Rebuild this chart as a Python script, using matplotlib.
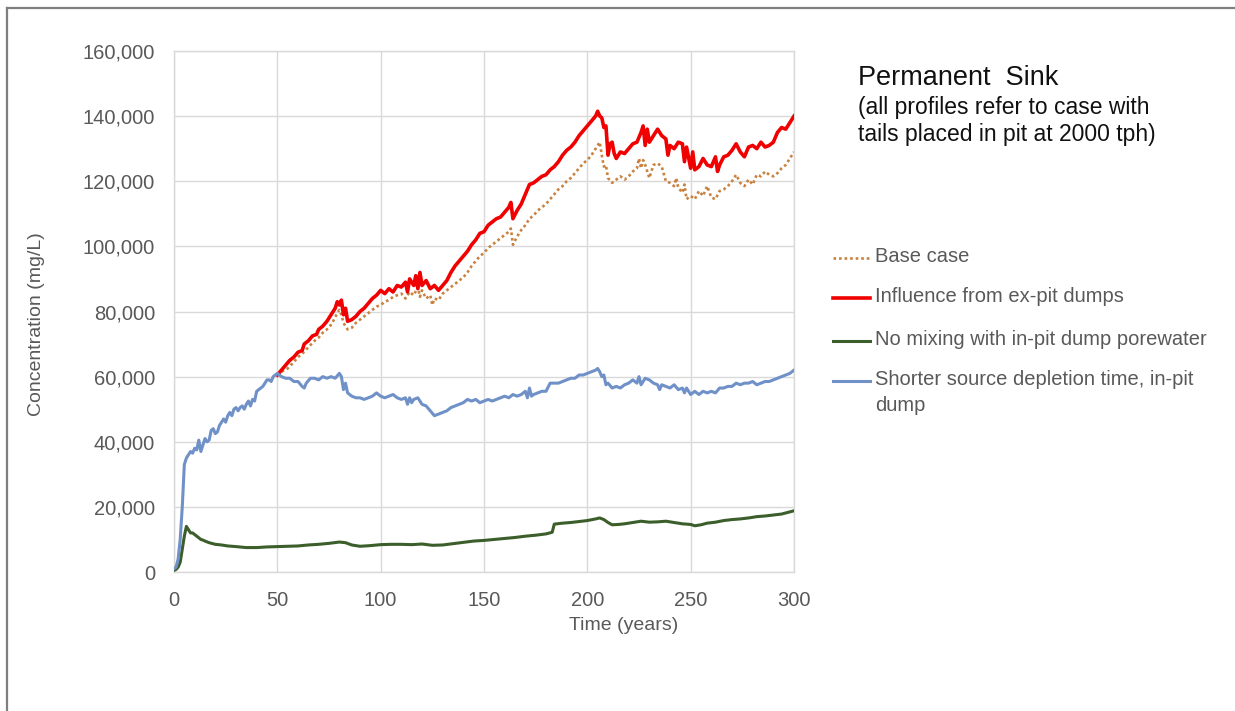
import matplotlib
matplotlib.use("Agg")
import matplotlib.pyplot as plt
from matplotlib.ticker import FuncFormatter, MultipleLocator
from matplotlib.lines import Line2D

plt.rcParams['font.family'] = ['Liberation Sans', 'DejaVu Sans']

# ---- data (years, concentration in thousands of mg/L) ----
base_years = [50, 52, 55, 58, 60, 62, 65, 68, 70, 72, 75, 77, 79, 80, 81, 82, 84, 86, 88, 90,
              92, 94, 96, 98, 100, 102, 104, 106, 108, 110, 112, 114, 116, 118, 119, 120, 122, 124, 125, 126,
              128, 130, 132, 134, 136, 138, 140, 142, 144, 146, 148, 150, 152, 154, 156, 158, 160, 162, 163, 164,
              166, 168, 170, 172, 174, 176, 178, 180, 182, 184, 186, 188, 190, 192, 194, 196, 198, 200, 202, 204,
              206, 207, 208, 209, 210, 212, 214, 216, 218, 220, 222, 224, 225, 226, 227, 228, 230, 232, 234, 236,
              238, 240, 242, 243, 244, 246, 247, 248, 250, 252, 254, 256, 258, 260, 262, 264, 266, 268, 270, 272,
              274, 276, 278, 280, 282, 284, 286, 288, 290, 292, 294, 296, 298, 300]
base_case = [60.5, 61.5, 62.5, 64.5, 66, 67, 69, 71, 72, 73.5, 75, 77, 79.5, 80.5, 79, 76.5, 74.5, 75, 76.5, 77.5,
             78.5, 79.5, 80.5, 81.5, 82, 83, 83.5, 84.5, 85, 85.5, 84, 86, 85, 87.5, 84.5, 86.5, 84, 85, 82, 84,
             83.5, 85.5, 86.5, 87.5, 88.5, 89.5, 90.5, 92, 94, 95.5, 97, 98, 99.5, 100.5, 101.5, 102.5, 103.5, 104.5, 105.5, 100.5,
             103, 105, 106.5, 108.5, 109.5, 111, 112, 113, 114.5, 116, 117.5, 118.5, 120, 121, 122.5, 124, 125.5, 126.5, 128, 130,
             132, 128, 124.5, 125, 121, 119.5, 120.5, 121.5, 120.5, 121.5, 123, 124, 127, 124, 126.5, 125, 121, 125, 125.5, 124.5,
             120, 119.5, 118.5, 121, 118, 116.5, 119, 114.5, 115.5, 114.5, 117, 115.5, 118.5, 115, 114.5, 117, 117.5, 118.5, 120, 122,
             119.5, 118.5, 120.5, 119, 122, 121.5, 123, 122, 121.5, 122.5, 124, 125, 127, 129]

expit_years = [50, 52, 54, 56, 58, 60, 62, 63, 65, 67, 69, 70, 72, 74, 76, 78, 79, 80, 81, 82,
               83, 84, 86, 88, 90, 92, 94, 96, 98, 100, 102, 104, 106, 108, 110, 112, 113, 114, 116, 117,
               118, 119, 120, 122, 124, 126, 128, 130, 132, 134, 136, 138, 140, 142, 144, 146, 148, 150, 152, 154,
               156, 158, 160, 162, 163, 164, 166, 168, 170, 172, 174, 176, 178, 180, 182, 184, 186, 188, 190, 192,
               194, 196, 198, 200, 202, 204, 205, 206, 207, 208, 209, 210, 211, 212, 213, 214, 216, 218, 220, 222,
               224, 226, 227, 228, 229, 230, 232, 234, 236, 238, 239, 240, 242, 244, 246, 247, 248, 250, 251, 252,
               254, 256, 258, 260, 262, 263, 264, 266, 268, 270, 272, 274, 276, 278, 280, 282, 284, 286, 288, 290,
               292, 294, 296, 298, 300]
expit_dumps = [60.5, 62, 63.5, 65, 66, 67.5, 68, 70, 71, 72.5, 73, 74.5, 75.5, 77, 79, 81, 83, 82, 83.5, 79,
               81, 77, 77.5, 78.5, 80, 81, 82.5, 84, 85, 86.5, 85.5, 87, 86, 88, 87.5, 89, 86, 90, 88, 91,
               87, 92, 88, 89.5, 87, 88, 86.5, 88, 89.5, 92, 94, 95.5, 97, 98.5, 100.5, 102, 104, 104.5, 106.5, 107.5,
               108.5, 109, 110.5, 112, 113.5, 108.5, 111, 113, 116, 119, 119.5, 120.5, 121.5, 122, 123.5, 124.5, 126, 128, 129.5, 130.5,
               132, 134, 135.5, 137, 138.5, 140, 141.5, 140, 139.5, 136.5, 137, 128, 131.5, 132, 128.5, 127, 129, 128.5, 130, 131.5,
               132, 135, 137, 131, 136, 132, 134, 136, 134, 133, 128, 131, 130, 132, 131.5, 126, 130.5, 124, 129, 123.5,
               124.5, 127, 125, 124.5, 127.5, 123, 125, 127.5, 128, 129.5, 131.5, 129, 127.5, 130.5, 131, 130, 132, 130.5, 131, 132,
               135, 136.5, 136, 138, 140]

nomix_years = [0, 1, 2, 3, 4, 5, 6, 7, 8, 9, 10, 11, 12, 13, 14, 15, 17, 20, 23, 26,
               30, 35, 40, 45, 50, 55, 60, 65, 70, 75, 80, 83, 86, 90, 95, 100, 105, 110, 115, 120,
               125, 130, 135, 140, 145, 150, 155, 160, 165, 170, 175, 180, 183, 184, 188, 192, 196, 200, 204, 206,
               208, 210, 212, 215, 218, 222, 226, 230, 234, 238, 242, 246, 250, 252, 255, 258, 262, 266, 270, 274,
               278, 282, 286, 290, 294, 297, 300]
no_mixing = [0.5, 0.8, 1.5, 3, 7, 11, 14, 13, 12, 12, 11.5, 11, 10.5, 10, 9.8, 9.5, 9, 8.5, 8.3, 8,
             7.8, 7.5, 7.5, 7.7, 7.8, 7.9, 8, 8.3, 8.5, 8.8, 9.2, 9, 8.3, 7.9, 8.1, 8.4, 8.5, 8.5, 8.4, 8.6,
             8.2, 8.3, 8.7, 9.1, 9.5, 9.7, 10, 10.3, 10.6, 11, 11.3, 11.7, 12.2, 14.7, 15, 15.2, 15.5, 15.8, 16.3, 16.6,
             16.1, 15.2, 14.5, 14.6, 14.8, 15.2, 15.6, 15.3, 15.4, 15.6, 15.2, 14.8, 14.6, 14.2, 14.5, 15, 15.3, 15.8, 16.1, 16.3,
             16.6, 17, 17.2, 17.5, 17.8, 18.3, 18.8]

short_years = [0, 1, 2, 3, 4, 5, 6, 7, 8, 9, 10, 11, 12, 13, 14, 15, 16, 17, 18, 19,
               20, 21, 22, 23, 24, 25, 26, 27, 28, 29, 30, 31, 32, 33, 34, 35, 36, 37, 38, 39,
               40, 41, 42, 43, 44, 45, 46, 47, 48, 49, 50, 52, 54, 56, 58, 60, 62, 63, 64, 66,
               68, 70, 72, 74, 76, 78, 80, 81, 82, 83, 84, 86, 88, 90, 92, 94, 96, 98, 100, 102,
               104, 106, 108, 110, 112, 113, 114, 115, 116, 118, 120, 122, 124, 126, 128, 130, 132, 134, 136, 138,
               140, 142, 144, 146, 148, 150, 152, 154, 156, 158, 160, 162, 164, 166, 168, 170, 171, 172, 173, 174,
               176, 178, 180, 182, 184, 186, 188, 190, 192, 194, 196, 198, 200, 202, 204, 205, 206, 207, 208, 209,
               210, 212, 214, 216, 218, 220, 222, 224, 225, 226, 228, 230, 232, 234, 235, 236, 238, 240, 242, 244,
               246, 247, 248, 250, 252, 254, 256, 258, 260, 262, 264, 266, 268, 270, 272, 274, 276, 278, 280, 282,
               284, 286, 288, 290, 292, 294, 296, 298, 300]
short_depletion = [1, 1.5, 4, 10, 20, 33, 35, 36, 37, 36.5, 38, 37.5, 40.5, 37, 39, 41, 40, 40.5, 43.5, 44,
                   42.5, 43, 45, 46, 47, 46, 48, 49, 48, 50, 50.5, 49.5, 50.5, 51, 50, 51.5, 52.5, 51, 53, 52.5,
                   55.5, 56, 56.5, 57, 58, 59, 59, 58.5, 60, 60.5, 61, 60, 59.5, 59.5, 58.5, 58.5, 57, 56.5, 58, 59.5,
                   59.5, 59, 60, 59.5, 60, 59.5, 61, 60, 56, 58, 55, 54, 53.5, 53.5, 53, 53.5, 54, 55, 54, 53.5,
                   54, 54.5, 53.5, 53, 53.5, 51.5, 53.5, 52, 53, 53.5, 51.5, 51, 49.5, 48, 48.5, 49, 49.5, 50.5, 51, 51.5,
                   52, 53, 52.5, 53, 52, 52.5, 53, 52.5, 53, 53.5, 54, 53.5, 54.5, 54, 54.5, 55.5, 53.5, 56.5, 54, 54.5,
                   55, 55.5, 55.5, 58, 58, 58, 58.5, 59, 59.5, 59.5, 60.5, 60.5, 61, 61.5, 62, 62.5, 61.5, 60, 60.5, 57.5,
                   58, 56.5, 57, 56.5, 57.5, 58, 59, 58, 60, 57.5, 59.5, 59, 58, 57.5, 56, 57.5, 57, 56.5, 57.5, 56,
                   56.5, 55, 56.5, 54.5, 55.5, 54.5, 55.5, 55, 55.5, 55, 56.5, 56.5, 57, 57, 58, 57.5, 58, 58, 58.5, 57.5,
                   58, 58.5, 58.5, 59, 59.5, 60, 60.5, 61, 62]

labels = ["Base case",
          "Influence from ex-pit dumps",
          "No mixing with in-pit dump porewater",
          "Shorter source depletion time, in-pit\ndump"]

c_base = "#c8813f"
c_red = "#f00000"
c_green = "#3b5e2b"
c_blue = "#6f91c8"
grid_c = "#d9d9d9"
text_c = "#595959"

W, H = 1235, 711
fig = plt.figure(figsize=(W / 100, H / 100), dpi=100)
fig.patch.set_facecolor("white")

# outer frame (left and top edges visible)
fig.add_artist(Line2D([7 / W, 7 / W], [0, 1 - 8 / H], transform=fig.transFigure,
                      color="#7f7f7f", lw=1.6))
fig.add_artist(Line2D([7 / W, 1], [1 - 8 / H, 1 - 8 / H], transform=fig.transFigure,
                      color="#7f7f7f", lw=1.6))

ax = fig.add_axes([174 / W, 1 - 572 / H, 620 / W, 521 / H])

k = 1000.0
styles = [
    dict(color=c_base, lw=1.9, linestyle=(0, (1, 1.1))),
    dict(color=c_red, lw=2.6),
    dict(color=c_green, lw=2.2),
    dict(color=c_blue, lw=2.2),
]
series = [(base_years, base_case), (expit_years, expit_dumps),
          (nomix_years, no_mixing), (short_years, short_depletion)]
for z, ((xs, ys), st) in enumerate(zip(series, styles)):
    ax.plot(xs, [v * k for v in ys], zorder=3 + z, **st)

ax.set_xlim(0, 300)
ax.set_ylim(0, 160000)
ax.xaxis.set_major_locator(MultipleLocator(50))
ax.yaxis.set_major_locator(MultipleLocator(20000))
ax.yaxis.set_major_formatter(FuncFormatter(lambda v, p: f"{int(v):,}"))
ax.grid(True, color=grid_c, lw=1.0, zorder=0)
ax.set_axisbelow(True)
for s in ax.spines.values():
    s.set_color(grid_c)
    s.set_linewidth(1.0)
ax.tick_params(length=0, labelsize=14.5, colors=text_c)
ax.tick_params(axis="x", pad=14)
ax.tick_params(axis="y", pad=13.5)

fig.text(624 / W, 1 - 626 / H, "Time (years)", ha="center", va="center",
         fontsize=14, color=text_c)
fig.text(37 / W, 1 - 324 / H, "Concentration (mg/L)", ha="center", va="center",
         rotation=90, fontsize=14, color=text_c)

fig.text(858 / W, 1 - 78 / H, "Permanent  Sink", ha="left", va="center",
         fontsize=19.5, color="#111111")
fig.text(858 / W, 1 - 121 / H, "(all profiles refer to case with\ntails placed in pit at 2000 tph)",
         ha="left", va="center", fontsize=16.5, color="#111111", linespacing=1.25)

# legend entries: sample line plus label, one row per series
row_y = [258, 298, 341, 381]
for st, lab, yy in zip(styles, labels, row_y):
    yf = 1 - yy / H
    fig.add_artist(Line2D([833 / W, 870 / W], [yf, yf], transform=fig.transFigure, **st))
    fig.text(875 / W, yf + 11 / H, lab, ha="left", va="top", fontsize=14.5,
             color=text_c, linespacing=1.45)

fig.savefig("out.png", dpi=100, facecolor="white")
